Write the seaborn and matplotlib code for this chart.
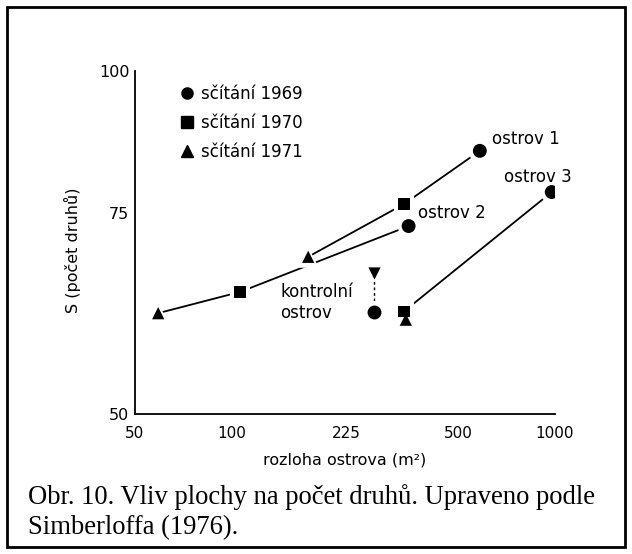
import numpy as np
import pandas as pd
import matplotlib
matplotlib.use('Agg')
import matplotlib.pyplot as plt
import seaborn as sns
from matplotlib.lines import Line2D
from matplotlib.patches import Rectangle
from matplotlib.ticker import NullLocator

# values (area in m2, number of species)
islands = ['ostrov 1', 'ostrov 1', 'ostrov 1',
           'ostrov 2', 'ostrov 2', 'ostrov 2',
           'ostrov 3', 'ostrov 3', 'ostrov 3']
census = ['sčítání 1971', 'sčítání 1970', 'sčítání 1969',
          'sčítání 1971', 'sčítání 1970', 'sčítání 1969',
          'sčítání 1971', 'sčítání 1970', 'sčítání 1969']
area = [172, 340, 585,
        59, 106, 352,
        345, 340, 977]
species = [68.7, 76.4, 85.1,
           61.3, 64.0, 73.1,
           60.5, 61.5, 78.3]

control_area = [275, 275]
control_species = [61.5, 66.5]

x_ticks = [50, 100, 225, 500, 1000]
y_ticks = [50, 75, 100]

df = pd.DataFrame({'ostrov': islands, 'census': census, 'area': area, 'S': species})

sns.set_style('white')
plt.rcParams['font.family'] = ['DejaVu Sans']
plt.rcParams['text.color'] = 'black'
plt.rcParams['axes.labelcolor'] = 'black'

fig = plt.figure(figsize=(6.32, 5.54), dpi=100)
ax = fig.add_axes([135 / 632, 1 - 414 / 554, 420 / 632, 343 / 554])

# connecting lines (island 3 line starts at 1970 census)
for isl, g in df.groupby('ostrov'):
    if isl == 'ostrov 3':
        g = g[g['census'] != 'sčítání 1971']
    sns.lineplot(data=g, x='area', y='S', sort=False, estimator=None,
                 color='black', lw=1.3, ax=ax, zorder=1)
ax.plot(control_area, control_species, color='black', lw=1.0,
        ls=(0, (2, 2)), zorder=1)

markers = {'sčítání 1969': 'o', 'sčítání 1970': 's', 'sčítání 1971': '^'}
sizes = {'sčítání 1969': 100, 'sčítání 1970': 72, 'sčítání 1971': 78}

# white halo so the lines stop short of the marks
for c, m in markers.items():
    g = df[df['census'] == c]
    ax.scatter(g['area'], g['S'], marker=m, s=sizes[c] * 2.8, color='white',
               lw=0, zorder=2)
ax.scatter([control_area[0]], [control_species[0]], marker='o', s=100 * 2.8,
           color='white', lw=0, zorder=2)
ax.scatter([control_area[1]], [control_species[1]], marker='v', s=78 * 2.0,
           color='white', lw=0, zorder=2)

for c, m in markers.items():
    g = df[df['census'] == c]
    sns.scatterplot(data=g, x='area', y='S', marker=m, s=sizes[c],
                    color='black', edgecolor='none', ax=ax, zorder=3,
                    legend=False)
ax.scatter([control_area[0]], [control_species[0]], marker='o', s=100,
           color='black', lw=0, zorder=3)
ax.scatter([control_area[1]], [control_species[1]], marker='v', s=78,
           color='black', lw=0, zorder=3)

ax.set_xscale('log')
ax.set_yscale('log')
ax.set_xlim(50, 1000)
ax.set_ylim(50, 100)
ax.set_xticks(x_ticks, [str(t) for t in x_ticks])
ax.set_yticks(y_ticks, [str(t) for t in y_ticks])
ax.xaxis.set_minor_locator(NullLocator())
ax.yaxis.set_minor_locator(NullLocator())
ax.tick_params(axis='x', direction='in', length=9, width=1.3, pad=9,
               labelsize=11, colors='black')
ax.tick_params(axis='y', direction='in', length=12, width=1.3, pad=4,
               labelsize=11.5, colors='black')
for s in ['top', 'right']:
    ax.spines[s].set_visible(False)
for s in ['left', 'bottom']:
    ax.spines[s].set_linewidth(1.3)
    ax.spines[s].set_color('black')
ax.set_xlabel('rozloha ostrova (m²)', fontsize=11.5, labelpad=8)
ax.set_ylabel('')
fig.text(72 / 632, 1 - 250 / 554, 'S (počet druhů)', rotation=90,
         ha='center', va='center', fontsize=11.5)

# labels of the islands
lab = dict(fontsize=12, textcoords='offset pixels', va='center')
ax.annotate('ostrov 1', (585, 85.1), xytext=(12, 12), ha='left', **lab)
ax.annotate('ostrov 2', (352, 73.1), xytext=(9, 13), ha='left', **lab)
ax.annotate('ostrov 3', (977, 78.3), xytext=(-14, 15), ha='center', **lab)
ax.annotate('kontrolní\nostrov', (275, 61.5), xytext=(-94, 9), ha='left',
            linespacing=1.25, **lab)

handles = [Line2D([], [], marker=m, color='black', ls='none', markersize=8)
           for m in markers.values()]
ax.legend(handles, list(markers.keys()), loc='upper left',
          bbox_to_anchor=(0.064, 1.003), frameon=False, fontsize=12,
          handletextpad=0.25, labelspacing=0.65, handlelength=1.2)

fig.text(28 / 632, 1 - 484 / 554,
         'Obr. 10. Vliv plochy na počet druhů. Upraveno podle\nSimberloffa (1976).',
         family='Liberation Serif', fontsize=19.2, ha='left', va='top',
         linespacing=1.28, color='black')

fig.patches.append(Rectangle((7 / 632, 7 / 554), 618 / 632, 540 / 554,
                             transform=fig.transFigure, fill=False,
                             edgecolor='black', lw=2))

fig.savefig('out.png', dpi=100)
